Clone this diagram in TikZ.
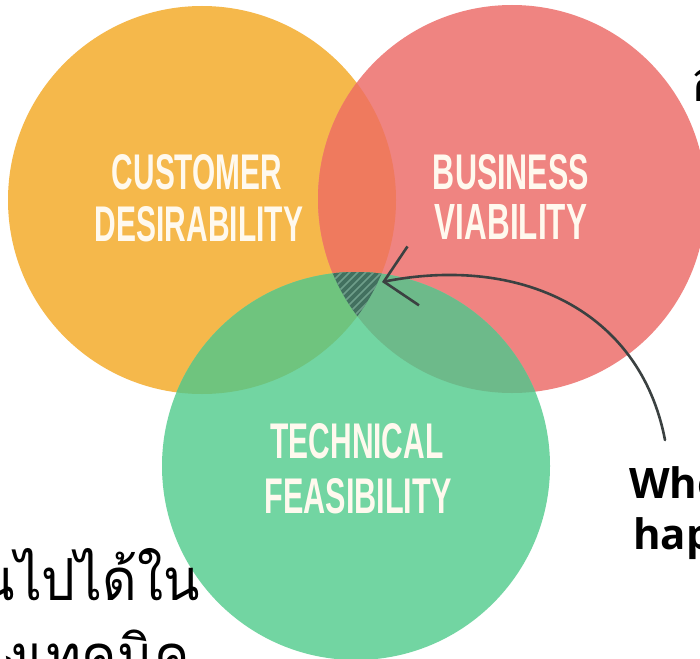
\documentclass[tikz,border=0pt]{standalone}
\usepackage{fontspec}
\setmainfont{Liberation Sans}
\newfontfamily\thaifont[Script=Thai]{Loma}
\newfontfamily\opensans{Open Sans}
\usetikzlibrary{arrows.meta}
\definecolor{orangeC}{HTML}{F5B84B}
\definecolor{redC}{HTML}{EF8481}
\definecolor{greenC}{HTML}{72D5A2}
\definecolor{orC}{HTML}{EF7A5E}
\definecolor{ogC}{HTML}{6FC47E}
\definecolor{rgC}{HTML}{6DBA8A}
\definecolor{tripleC}{HTML}{42705F}
\definecolor{stripeC}{HTML}{6E9E8A}
\definecolor{labelC}{HTML}{FFF9EE}
\definecolor{arrowC}{HTML}{3B4141}
\newcommand{\vennlabel}[2]{\resizebox{#1pt}{35pt}{\bfseries #2}}
\newcommand{\thainarrow}[1]{\scalebox{0.92}[1]{#1}}
\tikzset{
  venntext/.style={text=labelC, inner sep=0pt, anchor=center},
  pointer/.style={draw=arrowC, line width=2.6pt, line cap=round,
    -{Straight Barb[length=30pt,width=60pt,line width=2.6pt]}},
  thaitext/.style={font=\thaifont\fontsize{58}{70}\selectfont, inner sep=0pt, anchor=base east},
  engtext/.style={font=\opensans\bfseries\fontsize{42}{50}\selectfont, inner sep=0pt, anchor=base west}
}
\begin{document}
\begin{tikzpicture}[x=1pt,y=-1pt]
\useasboundingbox (0,0) rectangle (700,658);
\clip (0,0) rectangle (700,658);
\fill[white] (0,0) rectangle (700,658);
\def\orangecircle{(202,200) circle (194)}
\def\redcircle{(512,199) circle (194)}
\def\greencircle{(356,466) circle (194)}
% base circles
\fill[orangeC] \orangecircle;
\fill[redC] \redcircle;
\fill[greenC] \greencircle;
% pairwise overlaps
\begin{scope}
  \clip \orangecircle;
  \fill[orC] \redcircle;
  \fill[ogC] \greencircle;
\end{scope}
\begin{scope}
  \clip \redcircle;
  \fill[rgC] \greencircle;
\end{scope}
% centre region, hatched
\begin{scope}
  \clip \orangecircle;
  \clip \redcircle;
  \fill[tripleC] \greencircle;
  \clip \greencircle;
  \foreach \c in {590,598,...,720} {
    \draw[stripeC, line width=1.6pt] (\c-330,330) -- (\c-250,250);
  }
\end{scope}
% labels
\node[venntext] (custA) at (197,172) {\vennlabel{170}{CUSTOMER}};
\node[venntext] (custB) at (199,224) {\vennlabel{208}{DESIRABILITY}};
\node[venntext] (busA) at (511,172) {\vennlabel{156}{BUSINESS}};
\node[venntext] (busB) at (511,222) {\vennlabel{152}{VIABILITY}};
\node[venntext] (techA) at (357,441) {\vennlabel{173}{TECHNICAL}};
\node[venntext] (techB) at (358,496) {\vennlabel{187}{FEASIBILITY}};
% arrow
\coordinate (tail) at (665,440);
\coordinate (tip) at (382,282);
\draw[pointer] (tail) .. controls (640,310) and (520,255) .. (tip);
% side texts
\node[engtext] (whe) at (629,498) {Whe};
\node[engtext] (hap) at (633,549) {hap};
\node[thaitext] (th1) at (200,600) {\thainarrow{นไปได้ใน}};
\node[thaitext] (th2) at (190,676) {\thainarrow{งเทคนิค}};
\node[thaitext, anchor=base west] (th0) at (690,101) {อ};
\end{tikzpicture}
\end{document}
